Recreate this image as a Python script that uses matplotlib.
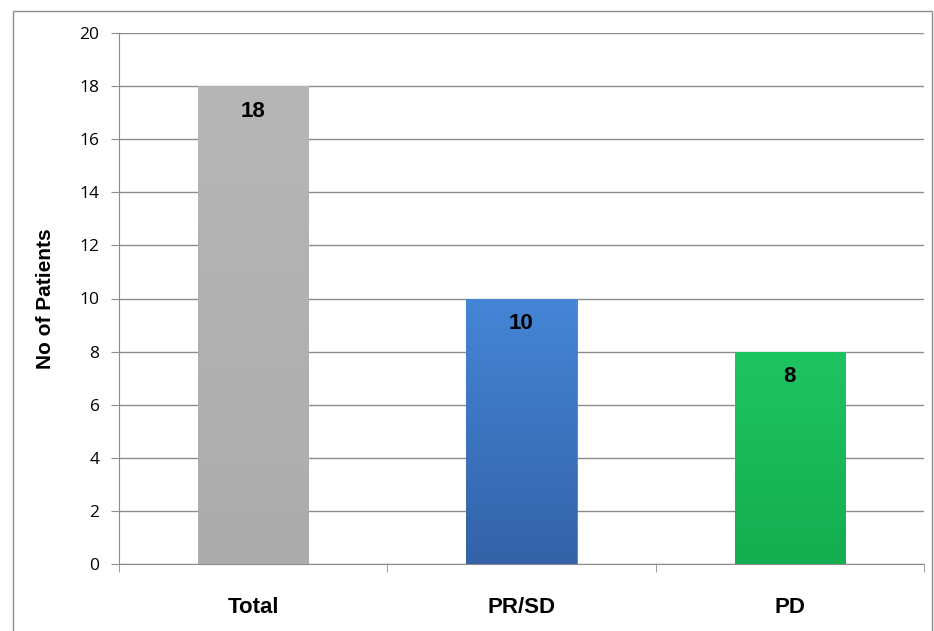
import numpy as np
import matplotlib.pyplot as plt
from matplotlib.patches import Rectangle
from matplotlib.colors import LinearSegmentedColormap

# data
categories = ["Total", "PR/SD", "PD"]
patients = [18, 10, 8]
bar_colors = [("#b6b6b6", "#acacac"), ("#4585d6", "#3463a8"), ("#1fc462", "#14ad50")]

fig = plt.figure(figsize=(9.34, 6.31), dpi=100)
ax = fig.add_axes([119 / 934, 67 / 631, (924 - 119) / 934, (564 - 33) / 631])

# outer chart border
fig.patches.append(Rectangle((13 / 934, -0.01), (932 - 13) / 934, 620 / 631 + 0.01,
                             transform=fig.transFigure, fill=False, edgecolor="#8c8c8c",
                             linewidth=1.0))

x = np.arange(len(categories))
width = 0.41
bars = ax.bar(x, patients, width=width, color=[c[0] for c in bar_colors],
              edgecolor="#7a7a7a", linewidth=0.6, zorder=3)

# vertical gradient on each bar
for b, (top_c, bot_c) in zip(bars, bar_colors):
    x0, y0 = b.get_x(), b.get_y()
    w, h = b.get_width(), b.get_height()
    grad = np.linspace(0, 1, 100).reshape(-1, 1)
    cmap = LinearSegmentedColormap.from_list("g", [bot_c, top_c])
    im = ax.imshow(grad, extent=[x0, x0 + w, y0, y0 + h], origin="lower",
                   cmap=cmap, aspect="auto", zorder=3.5)
    im.set_clip_path(b)

for xi, v in zip(x, patients):
    ax.text(xi, v - 0.95, str(v), ha="center", va="center", fontsize=16,
            fontweight="bold", family="Liberation Sans", zorder=5)

ax.set_xlim(-0.5, len(categories) - 0.5)
ax.set_ylim(0, 20)
ax.set_yticks(range(0, 21, 2))
ax.yaxis.grid(True, color="#8c8c8c", linewidth=1.0, zorder=0)
ax.set_axisbelow(True)

ax.set_xticks(x)
ax.set_xticklabels(categories, fontsize=16, fontweight="bold", family="Liberation Sans")
ax.tick_params(axis="x", length=0, pad=24)
ax.set_xticks([-0.5, 0.5, 1.5, 2.5], minor=True)
ax.tick_params(axis="x", which="minor", length=6, color="#8c8c8c", direction="out")
ax.tick_params(axis="y", length=6, color="#8c8c8c", labelsize=12.5, pad=8)
for lab in ax.get_yticklabels():
    lab.set_family("Open Sans")

for s in ["top", "right"]:
    ax.spines[s].set_visible(False)
for s in ["left", "bottom"]:
    ax.spines[s].set_color("#8c8c8c")

ax.set_ylabel("No of Patients", fontsize=15, fontweight="bold", family="Liberation Sans",
              labelpad=18)

fig.savefig("out.png", dpi=100)
